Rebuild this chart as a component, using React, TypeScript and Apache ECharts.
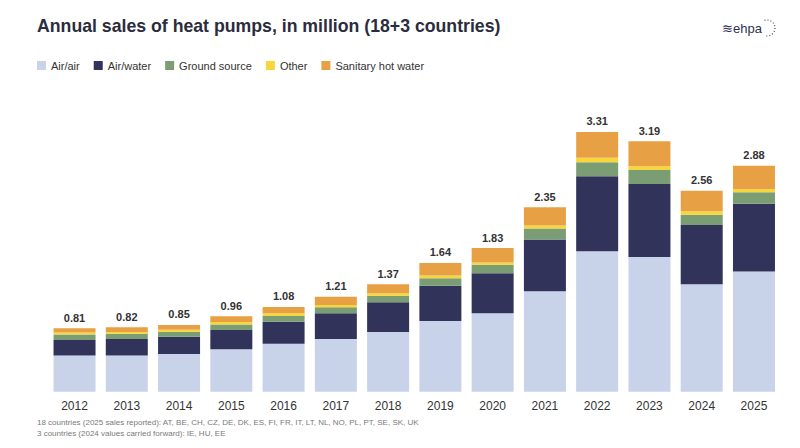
import React, { useEffect, useRef } from "react";
import * as echarts from "echarts";

const years = ["2012","2013","2014","2015","2016","2017","2018","2019","2020","2021","2022","2023","2024","2025"];
const airAir = [0.46,0.46,0.48,0.54,0.61,0.67,0.76,0.90,1.00,1.28,1.79,1.716,1.368,1.53];
const airWater = [0.20,0.21,0.22,0.245,0.28,0.33,0.38,0.45,0.51,0.66,0.955,0.93,0.755,0.866];
const groundSource = [0.07,0.068,0.065,0.072,0.076,0.076,0.084,0.097,0.106,0.14,0.18,0.178,0.13,0.145];
const other = [0.025,0.022,0.025,0.03,0.034,0.03,0.03,0.034,0.03,0.038,0.056,0.05,0.047,0.038];
const sanitary = [0.055,0.06,0.06,0.073,0.08,0.104,0.116,0.159,0.184,0.232,0.329,0.316,0.26,0.301];
const totals = [0.81,0.82,0.85,0.96,1.08,1.21,1.37,1.64,1.83,2.35,3.31,3.19,2.56,2.88];

const seriesNames = ["Air/air","Air/water","Ground source","Other","Sanitary hot water"];
const colors = ["#c8d2e8","#31335a","#7a9d74","#f6d63c","#e8a044"];
const footnotes = [
  "18 countries (2025 sales reported): AT, BE, CH, CZ, DE, DK, ES, FI, FR, IT, LT, NL, NO, PL, PT, SE, SK, UK",
  "3 countries (2024 values carried forward): IE, HU, EE",
];

const FONT = "Liberation Sans, Arial, sans-serif";

export default function App() {
  const ref = useRef<HTMLDivElement>(null);
  useEffect(() => {
    if (!ref.current) return;
    const chart = echarts.init(ref.current, undefined, { renderer: "svg" });
    const data = [airAir, airWater, groundSource, other, sanitary];
    chart.setOption({
      animation: false,
      backgroundColor: "#ffffff",
      textStyle: { fontFamily: FONT },
      title: {
        text: "Annual sales of heat pumps, in million (18+3 countries)",
        left: 32,
        top: 12,
        textStyle: { fontFamily: FONT, fontSize: 17.7, fontWeight: "bold", color: "#2b2c3c" },
      },
      legend: {
        left: 32,
        top: 55,
        itemWidth: 9,
        itemHeight: 9,
        itemGap: 14,
        icon: "rect",
        data: seriesNames,
        textStyle: { fontFamily: FONT, fontSize: 11, color: "#333" },
      },
      grid: { left: 48.4, right: 19.9, top: 117, bottom: 56.3 },
      xAxis: {
        type: "category",
        data: years,
        axisLine: { show: false },
        axisTick: { show: false },
        axisLabel: { fontFamily: FONT, fontSize: 12, color: "#333", margin: 8 },
      },
      yAxis: { type: "value", min: 0, max: 3.5, show: false, splitLine: { show: false } },
      series: seriesNames.map((name, i) => ({
        name,
        type: "bar",
        stack: "total",
        barWidth: 42,
        data: data[i],
        itemStyle: { color: colors[i] },
        label: i === 4 ? {
          show: true,
          position: "top",
          distance: 5,
          formatter: (p: any) => totals[p.dataIndex].toFixed(2),
          fontFamily: FONT,
          fontSize: 11,
          fontWeight: "bold",
          color: "#333",
        } : { show: false },
      })),
      graphic: [
        {
          type: "text",
          left: 37,
          top: 418,
          style: { text: footnotes[0], fontFamily: FONT, fontSize: 8, fill: "#7a7a7a" },
        },
        {
          type: "text",
          left: 37,
          top: 429.5,
          style: { text: footnotes[1], fontFamily: FONT, fontSize: 8, fill: "#7a7a7a" },
        },
        {
          type: "text",
          left: 722,
          top: 22,
          style: { text: "≋ehpa", fontFamily: FONT, fontSize: 13, fill: "#2d3050" },
        },
        {
          type: "arc",
          shape: { cx: 767, cy: 28, r: 8, startAngle: -Math.PI * 0.6, endAngle: Math.PI * 0.6 },
          style: { stroke: "#4a4e70", lineWidth: 1.2, lineDash: [1, 2], fill: "none" },
        },
      ],
    });
    return () => chart.dispose();
  }, []);
  return <div ref={ref} style={{ position: "fixed", left: 0, top: 0, width: 800, height: 448 }} />;
}
